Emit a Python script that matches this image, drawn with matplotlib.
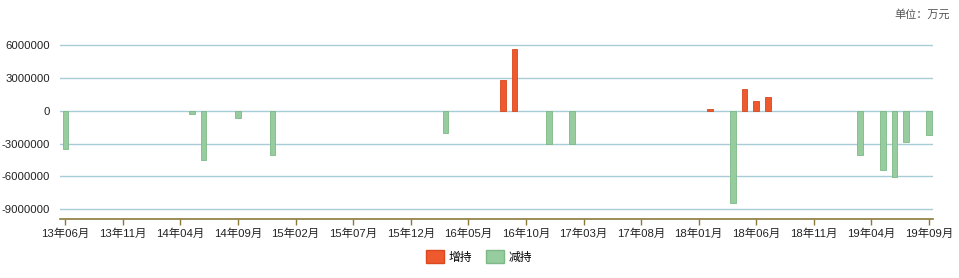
import matplotlib
matplotlib.use("Agg")
import matplotlib.pyplot as plt
from matplotlib.patches import Patch

plt.rcParams['font.family'] = ['Liberation Sans', 'Noto Sans CJK SC', 'DejaVu Sans']

# Monthly categories 2013-06 .. 2019-09
months = []
for y in range(13, 20):
    for m in range(1, 13):
        if (y == 13 and m < 6) or (y == 19 and m > 9):
            continue
        months.append(f"{y}年{m:02d}月")

# Net holding changes (万元) by month
increase = {  # 增持
    "16年08月": 2820000,
    "16年09月": 5640000,
    "18年02月": 180000,
    "18年05月": 2000000,
    "18年06月": 910000,
    "18年07月": 1270000,
}
decrease = {  # 减持
    "13年06月": -3480000,
    "14年05月": -300000,
    "14年06月": -4500000,
    "14年09月": -670000,
    "14年12月": -4060000,
    "16年03月": -2060000,
    "16年12月": -3030000,
    "17年02月": -3030000,
    "18年04月": -8400000,
    "19年03月": -4060000,
    "19年05月": -5420000,
    "19年06月": -6030000,
    "19年07月": -2880000,
    "19年09月": -2240000,
}
yticks = [6000000, 3000000, 0, -3000000, -6000000, -9000000]

W, H = 959, 278
fig = plt.figure(figsize=(W / 100, H / 100), dpi=100)
left, right, top, bottom = 60, 933, 30, 219
ax = fig.add_axes([left / W, 1 - bottom / H, (right - left) / W, (bottom - top) / H])

red, red_edge = "#EE5A2E", "#D9481F"
green, green_edge = "#96CC9E", "#7DB886"

idx = {m: i for i, m in enumerate(months)}
ax.bar([idx[k] for k in increase], list(increase.values()), width=0.48,
       color=red, edgecolor=red_edge, linewidth=0.6, zorder=3)
ax.bar([idx[k] for k in decrease], list(decrease.values()), width=0.48,
       color=green, edgecolor=green_edge, linewidth=0.6, zorder=3)

ax.set_xlim(-0.46, 75.35)
ax.set_ylim(-9890000, 7370000)

ax.set_yticks(yticks)
ax.set_yticklabels([str(v) for v in yticks], fontsize=8.2, color="#222222")
ax.tick_params(axis='y', length=0, pad=7)
ax.yaxis.grid(True, color="#A8CCD7", linewidth=1.0, zorder=0)

xt = list(range(0, len(months), 5))
ax.set_xticks(xt)
ax.set_xticklabels([months[i] for i in xt], fontsize=8.2, color="#222222")
ax.tick_params(axis='x', length=4, width=1, color="#8A7A3A", direction='out', pad=3)

for s in ['top', 'right', 'left']:
    ax.spines[s].set_visible(False)
ax.spines['bottom'].set_color("#8A7A3A")
ax.spines['bottom'].set_linewidth(1.2)

handles = [Patch(facecolor=red, edgecolor=red_edge, label="增持"),
           Patch(facecolor=green, edgecolor=green_edge, label="减持")]
fig.legend(handles=handles, loc='center', bbox_to_anchor=(479 / W, 1 - 257 / H),
           ncol=2, frameon=False, fontsize=8.5, handlelength=1.5, handleheight=1.2,
           handletextpad=0.4, columnspacing=1.2)

fig.text(950 / W, 1 - 14 / H, "单位：万元", ha='right', va='center',
         fontsize=8, color="#555555", family=['Noto Sans CJK SC'])

fig.savefig("out.png", dpi=100)
